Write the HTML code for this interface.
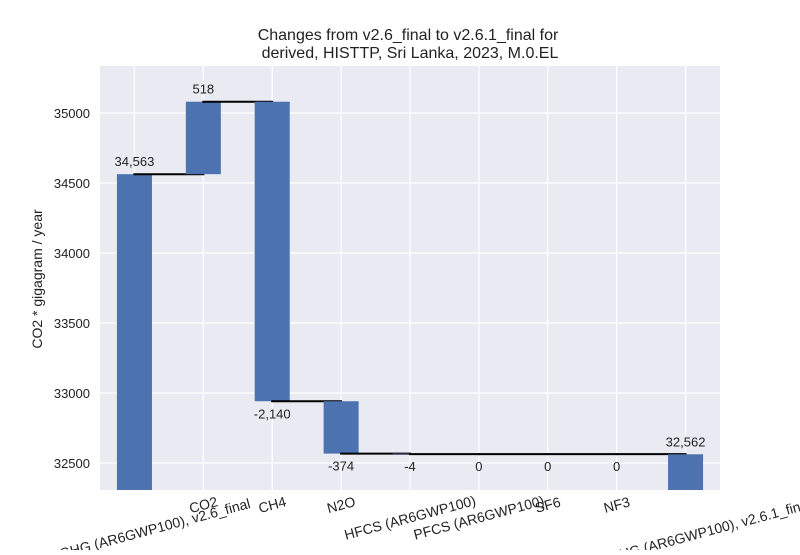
<!DOCTYPE html>
<html><head><meta charset="utf-8"><style>body{margin:0;background:#fff}svg text{font-family:"Liberation Sans",sans-serif}</style></head>
<body>
<svg id="c" width="800" height="550" xmlns="http://www.w3.org/2000/svg">
<text x="408" y="40" text-anchor="middle" font-size="16" fill="#222">Changes from v2.6_final to v2.6.1_final for</text>
<text x="410" y="58" text-anchor="middle" font-size="16" fill="#222">derived, HISTTP, Sri Lanka, 2023, M.0.EL</text>
<rect x="100" y="66" width="620" height="424" fill="#eaeaf2"/>
<g id="grid"></g><g id="bars"></g><g id="labels"></g>
<text transform="translate(42,279) rotate(-90)" text-anchor="middle" font-size="14" fill="#222">CO2 * gigagram / year</text>
</svg>
<script>
const categories=["GHG (AR6GWP100), v2.6_final","CO2","CH4","N2O","HFCS (AR6GWP100)","PFCS (AR6GWP100)","SF6","NF3","GHG (AR6GWP100), v2.6.1_final"];
const deltas=[34563,518,-2140,-374,-4,0,0,0,32562];
const valueLabels=["34,563","518","-2,140","-374","-4","0","0","0","32,562"];
const yTicks=[32500,33000,33500,34000,34500,35000];
const NS="http://www.w3.org/2000/svg";
const yMin=32307,yMax=35336;
function y(v){return 490-(v-yMin)/(yMax-yMin)*424;}
function x(i){return 100+(i+0.5)*620/categories.length;}
const grid=document.getElementById('grid'),bars=document.getElementById('bars'),labels=document.getElementById('labels');
function mk(tag,a,p){const e=document.createElementNS(NS,tag);for(const k in a)e.setAttribute(k,String(a[k]));p.appendChild(e);return e;}
yTicks.forEach(function(t){
 const l=mk('line',{x1:100,x2:720,y1:y(t),y2:y(t),stroke:'#fff','stroke-width':1.2},grid);
 
 
 const tx=mk('text',{x:90,y:y(t)+5,'text-anchor':'end','font-size':13,fill:'#222'},labels);
 tx.textContent=String(t);
 
 
});
categories.forEach(function(c,i){
 const l=mk('line',{x1:x(i),x2:x(i),y1:66,y2:490,stroke:'#fff','stroke-width':1.2},grid);
 
 
});
let run=0;const bw=35;
deltas.forEach(function(d,i){
 const c=categories[i];
 const last=i===deltas.length-1;
 let a,b;
 if(i===0||last){a=yMin;b=d;run=d;}else{a=run;b=run+d;run=b;}
 const top=Math.max(a,b),bot=Math.min(a,b);
 if(top-bot>0){
  const r=mk('rect',{x:x(i)-bw/2,y:y(top),width:bw,height:Math.max(0,y(bot)-y(top)),fill:'#4c72b0'},bars);
  
  
 }
 if(!last){
  const cl=mk('line',{x1:x(i)-1,x2:x(i+1)+1,y1:y(run),y2:y(run),stroke:'#000','stroke-width':2},bars);
  
  
 }
 const neg=(i>0&&!last&&d<=0);
 const vt=mk('text',{x:x(i),y:neg?y(bot)+17:y(top)-8,'text-anchor':'middle','font-size':13,fill:'#222'},labels);
 vt.textContent=valueLabels[i];
 
 
 const w=c.length*7.6;
 const h=w*Math.sin(15*Math.PI/180)+14*Math.cos(15*Math.PI/180);
 const sh=Math.max(0,(w-130)*0.27);
 const t=mk('text',{x:0,y:5,'text-anchor':'middle','font-size':14,fill:'#222',transform:'translate('+(x(i)+sh)+','+(495+h/2)+') rotate(-15)'},labels);
 t.textContent=c;
 
 
});
</script>
</body></html>
